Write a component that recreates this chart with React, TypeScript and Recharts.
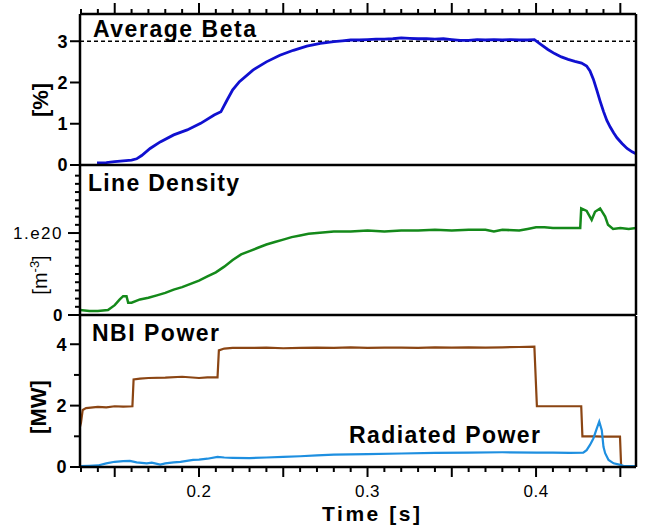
import React from 'react';
import { LineChart, Line, XAxis, YAxis, ReferenceLine } from 'recharts';

// time window shared by the three panels [s]
const T_MIN = 0.1294;
const T_MAX = 0.4593;

const timeTicks = [
  0.13, 0.14, 0.15, 0.16, 0.17, 0.18, 0.19, 0.2, 0.21, 0.22, 0.23, 0.24, 0.25, 0.26, 0.27, 0.28, 0.29,
  0.3, 0.31, 0.32, 0.33, 0.34, 0.35, 0.36, 0.37, 0.38, 0.39, 0.4, 0.41, 0.42, 0.43, 0.44, 0.45,
];
const timeLabels = [0.2, 0.3, 0.4];

const betaTicks = [0, 1, 2, 3];
const densityTicks = [0, 0.1, 0.2, 0.3, 0.4, 0.5, 0.6, 0.7, 0.8, 0.9, 1, 1.1, 1.2, 1.3, 1.4, 1.5, 1.6, 1.7];
const powerTicks = [0, 1, 2, 3, 4];

// Average beta [%]
const betaTime = [
  0.1395, 0.145, 0.15, 0.155, 0.16, 0.163, 0.166, 0.171, 0.177, 0.185, 0.193, 0.201, 0.209, 0.213, 0.2166,
  0.22, 0.224, 0.232, 0.24, 0.248, 0.256, 0.264, 0.272, 0.28, 0.285, 0.29, 0.295, 0.3, 0.305, 0.31, 0.315,
  0.32, 0.325, 0.33, 0.335, 0.34, 0.345, 0.35, 0.355, 0.36, 0.365, 0.37, 0.375, 0.38, 0.385, 0.39, 0.395,
  0.399, 0.403, 0.407, 0.411, 0.415, 0.419, 0.423, 0.427, 0.43, 0.432, 0.434, 0.436, 0.438, 0.44, 0.442,
  0.444, 0.446, 0.448, 0.451, 0.454, 0.457, 0.4593,
];
const betaValue = [
  0.05, 0.06, 0.08, 0.1, 0.12, 0.15, 0.23, 0.4, 0.56, 0.73, 0.85, 1.01, 1.21, 1.29, 1.57,
  1.82, 2.02, 2.3, 2.5, 2.66, 2.78, 2.88, 2.95, 2.99, 3.01, 3.03, 3.03, 3.04, 3.05, 3.05, 3.06,
  3.08, 3.07, 3.06, 3.06, 3.05, 3.06, 3.04, 3.02, 3.02, 3.04, 3.03, 3.04, 3.03, 3.04, 3.03, 3.03,
  3.04, 2.92, 2.8, 2.7, 2.62, 2.56, 2.51, 2.47, 2.4, 2.28, 2.08, 1.82, 1.55, 1.3, 1.08,
  0.92, 0.78, 0.66, 0.52, 0.4, 0.32, 0.27,
];

// Line density [1e20 m^-3]
const densityTime = [
  0.1294, 0.135, 0.14, 0.146, 0.15, 0.153, 0.155, 0.157, 0.158, 0.16, 0.165, 0.17, 0.175, 0.18, 0.185,
  0.19, 0.195, 0.2, 0.205, 0.21, 0.215, 0.22, 0.225, 0.23, 0.235, 0.24, 0.245, 0.25, 0.255, 0.26, 0.265,
  0.27, 0.275, 0.28, 0.29, 0.3, 0.31, 0.32, 0.33, 0.34, 0.35, 0.36, 0.37, 0.375, 0.38, 0.39, 0.395, 0.4,
  0.405, 0.41, 0.415, 0.42, 0.4262, 0.4268, 0.43, 0.433, 0.435, 0.438, 0.441, 0.4427, 0.4457, 0.45, 0.455,
  0.4593,
];
const densityValue = [
  0.06, 0.05, 0.05, 0.06, 0.12, 0.19, 0.23, 0.23, 0.15, 0.15, 0.19, 0.21, 0.24, 0.27, 0.31,
  0.34, 0.38, 0.42, 0.47, 0.52, 0.59, 0.67, 0.74, 0.78, 0.82, 0.86, 0.89, 0.92, 0.95, 0.97, 0.99,
  1.0, 1.01, 1.02, 1.02, 1.03, 1.02, 1.03, 1.03, 1.04, 1.03, 1.04, 1.04, 1.02, 1.04, 1.03, 1.05, 1.07,
  1.07, 1.06, 1.06, 1.06, 1.06, 1.3, 1.27, 1.16, 1.26, 1.3, 1.2, 1.1, 1.05, 1.06, 1.05,
  1.06,
];

// NBI power [MW]
const nbiTime = [
  0.1294, 0.13, 0.131, 0.133, 0.14, 0.145, 0.15, 0.155, 0.1605, 0.1612, 0.165, 0.17, 0.18, 0.19, 0.2,
  0.205, 0.211, 0.2118, 0.215, 0.22, 0.23, 0.24, 0.25, 0.26, 0.27, 0.28, 0.29, 0.3, 0.31, 0.32, 0.33,
  0.34, 0.35, 0.36, 0.37, 0.38, 0.39, 0.399, 0.4005, 0.41, 0.42, 0.4268, 0.4275, 0.435, 0.44, 0.4498,
  0.4505,
];
const nbiValue = [
  1.31, 1.45, 1.86, 1.92, 1.96, 1.94, 1.98, 1.97, 1.98, 2.85, 2.88, 2.9, 2.91, 2.94, 2.9,
  2.92, 2.92, 3.8, 3.86, 3.88, 3.88, 3.89, 3.87, 3.88, 3.89, 3.88, 3.9, 3.88, 3.89, 3.89, 3.88,
  3.9, 3.89, 3.9, 3.89, 3.9, 3.91, 3.92, 1.98, 1.98, 1.98, 1.98, 1.0, 1.0, 0.99, 0.99,
  0,
];

// Radiated power [MW]
const radTime = [
  0.1294, 0.135, 0.14, 0.145, 0.15, 0.155, 0.159, 0.163, 0.169, 0.172, 0.177, 0.18, 0.185, 0.189, 0.1965,
  0.2, 0.205, 0.211, 0.215, 0.22, 0.23, 0.24, 0.25, 0.26, 0.27, 0.28, 0.29, 0.3, 0.32, 0.34, 0.36,
  0.38, 0.4, 0.41, 0.42, 0.428, 0.43, 0.432, 0.434, 0.436, 0.4375, 0.439, 0.44, 0.441, 0.443, 0.446,
  0.45, 0.452, 0.4593,
];
const radValue = [
  0.03, 0.04, 0.05, 0.12, 0.17, 0.19, 0.2, 0.15, 0.12, 0.14, 0.08, 0.12, 0.15, 0.17, 0.23,
  0.24, 0.27, 0.33, 0.31, 0.3, 0.29, 0.31, 0.33, 0.35, 0.38, 0.4, 0.41, 0.42, 0.44, 0.46, 0.47,
  0.48, 0.47, 0.47, 0.46, 0.47, 0.55, 0.72, 0.93, 1.25, 1.48, 1.2, 0.66, 0.45, 0.23, 0.12,
  0.07, 0.03, 0.03,
];

const zip = (t: number[], v: number[]) => t.map((x, i) => ({ t: x, v: v[i] }));

const FONT = 'Liberation Sans, Arial, Helvetica, sans-serif';
const AXIS = { stroke: '#000', strokeWidth: 2.5 };

type Side = 'top' | 'bottom' | 'left' | 'right';
interface TickOpts {
  side: Side;
  len: (v: number) => number;
  label?: (v: number) => string | null;
  bold?: (v: number) => boolean;
  gap?: number;
  size?: number;
}

const makeTick = (o: TickOpts) => (p: any) => {
  const { x, y, payload } = p;
  const v = payload.value as number;
  const L = o.len(v);
  const lab = o.label ? o.label(v) : null;
  const gap = o.gap ?? 12;
  const fs = o.size ?? 18;
  const weight = o.bold && o.bold(v) ? 700 : 400;
  let line;
  if (o.side === 'top') line = <line x1={x} x2={x} y1={y} y2={y - L} stroke="#000" strokeWidth={2} />;
  else if (o.side === 'bottom') line = <line x1={x} x2={x} y1={y} y2={y + L} stroke="#000" strokeWidth={2} />;
  else if (o.side === 'left') line = <line x1={x} x2={x - L} y1={y} y2={y} stroke="#000" strokeWidth={2} />;
  else line = <line x1={x} x2={x + L} y1={y} y2={y} stroke="#000" strokeWidth={2} />;
  let text = null;
  if (lab) {
    if (o.side === 'bottom') {
      text = (
        <text x={x} y={y + gap} textAnchor="middle" fontSize={fs} fontWeight={weight} fontFamily={FONT} letterSpacing={0.5} fill="#000">
          {lab}
        </text>
      );
    } else if (o.side === 'left') {
      text = (
        <text x={x - gap} y={y} dy="0.36em" textAnchor="end" fontSize={fs} fontWeight={weight} fontFamily={FONT} letterSpacing={weight === 400 ? 1.5 : 0.5} fill="#000">
          {lab}
        </text>
      );
    }
  }
  return (
    <g>
      {line}
      {text}
    </g>
  );
};

const isMajorTime = (v: number) => Math.round(v * 100) % 5 === 0;
const timeLabel = (v: number) => (timeLabels.some((l) => Math.abs(l - v) < 1e-6) ? v.toFixed(1) : null);

const W = 646;
const PLOT_LEFT = 80;
const RIGHT_W = 10;

const TopPanel = () => (
  <LineChart width={W} height={180} margin={{ top: 0, right: 0, bottom: 14, left: 0 }}>
    <XAxis
      xAxisId="t"
      orientation="top"
      type="number"
      dataKey="t"
      domain={[T_MIN, T_MAX]}
      allowDataOverflow
      ticks={timeTicks}
      interval={0}
      height={14}
      tickSize={0}
      tickMargin={0}
      tickLine={false}
      axisLine={AXIS}
      tick={makeTick({ side: 'top', len: (v) => (isMajorTime(v) ? 11 : 5) })}
    />
    <XAxis xAxisId="b" orientation="bottom" type="number" dataKey="t" domain={[T_MIN, T_MAX]} height={1} tick={false} tickLine={false} axisLine={AXIS} />
    <YAxis
      yAxisId="l"
      width={PLOT_LEFT}
      domain={[0, 3.66]}
      allowDataOverflow
      ticks={betaTicks}
      interval={0}
      tickSize={0}
      tickMargin={0}
      tickLine={false}
      axisLine={AXIS}
      tick={makeTick({ side: 'left', len: () => 10, label: (v) => String(v), bold: () => true, gap: 12 })}
    />
    <YAxis
      yAxisId="r"
      orientation="right"
      width={RIGHT_W}
      domain={[0, 3.66]}
      ticks={betaTicks}
      interval={0}
      tickSize={0}
      tickMargin={0}
      tickLine={false}
      axisLine={AXIS}
      tick={makeTick({ side: 'right', len: () => 8 })}
    />
    <ReferenceLine xAxisId="t" yAxisId="l" y={3} stroke="#000" strokeWidth={1.5} strokeDasharray="4 3" />
    <Line xAxisId="t" yAxisId="l" data={zip(betaTime, betaValue)} dataKey="v" stroke="#1010d0" strokeWidth={2.8} dot={false} isAnimationActive={false} />
  </LineChart>
);

const MiddlePanel = () => (
  <LineChart width={W} height={180} margin={{ top: 15, right: 0, bottom: 14, left: 0 }}>
    <XAxis xAxisId="b" orientation="bottom" type="number" dataKey="t" domain={[T_MIN, T_MAX]} allowDataOverflow height={1} tick={false} tickLine={false} axisLine={AXIS} />
    <YAxis
      yAxisId="l"
      width={PLOT_LEFT}
      domain={[0, 1.83]}
      allowDataOverflow
      ticks={densityTicks}
      interval={0}
      tickSize={0}
      tickMargin={0}
      tickLine={false}
      axisLine={AXIS}
      tick={makeTick({
        side: 'left',
        len: (v) => (v === 0 || v === 1 ? 12 : 5),
        label: (v) => (v === 0 ? '0' : v === 1 ? '1.e20' : null),
        bold: (v) => v === 0,
        gap: 17,
        size: 17,
      })}
    />
    <YAxis
      yAxisId="r"
      orientation="right"
      width={RIGHT_W}
      domain={[0, 1.83]}
      ticks={densityTicks}
      interval={0}
      tickSize={0}
      tickMargin={0}
      tickLine={false}
      axisLine={AXIS}
      tick={makeTick({ side: 'right', len: (v) => (Math.round(v * 10) % 5 === 0 ? 8 : 4) })}
    />
    <Line xAxisId="b" yAxisId="l" data={zip(densityTime, densityValue)} dataKey="v" stroke="#14891a" strokeWidth={2.5} dot={false} isAnimationActive={false} />
  </LineChart>
);

const BottomPanel = () => (
  <LineChart width={W} height={226} margin={{ top: 16, right: 0, bottom: 0, left: 0 }}>
    <XAxis
      xAxisId="b"
      orientation="bottom"
      type="number"
      dataKey="t"
      domain={[T_MIN, T_MAX]}
      allowDataOverflow
      ticks={timeTicks}
      interval={0}
      height={59}
      tickSize={0}
      tickMargin={0}
      tickLine={false}
      axisLine={AXIS}
      tick={makeTick({ side: 'bottom', len: (v) => (isMajorTime(v) ? 10 : 5), label: timeLabel, gap: 30, size: 17 })}
    />
    <YAxis
      yAxisId="l"
      width={PLOT_LEFT}
      domain={[0, 4.92]}
      allowDataOverflow
      ticks={powerTicks}
      interval={0}
      tickSize={0}
      tickMargin={0}
      tickLine={false}
      axisLine={AXIS}
      tick={makeTick({
        side: 'left',
        len: (v) => (v % 2 === 0 ? 10 : 6),
        label: (v) => (v % 2 === 0 ? String(v) : null),
        bold: () => true,
        gap: 13,
      })}
    />
    <YAxis
      yAxisId="r"
      orientation="right"
      width={RIGHT_W}
      domain={[0, 4.92]}
      ticks={powerTicks}
      interval={0}
      tickSize={0}
      tickMargin={0}
      tickLine={false}
      axisLine={AXIS}
      tick={makeTick({ side: 'right', len: () => 8 })}
    />
    <Line xAxisId="b" yAxisId="l" data={zip(nbiTime, nbiValue)} dataKey="v" stroke="#8b4513" strokeWidth={2.2} dot={false} isAnimationActive={false} />
    <Line xAxisId="b" yAxisId="l" data={zip(radTime, radValue)} dataKey="v" stroke="#1e8fe0" strokeWidth={2.2} dot={false} isAnimationActive={false} />
  </LineChart>
);

const Labels = () => (
  <svg width={W} height={526} style={{ position: 'absolute', left: 0, top: 0, pointerEvents: 'none' }} fontFamily={FONT}>
    <text x={93} y={36.5} fontSize={23} fontWeight={700} textLength={163} lengthAdjust="spacing">Average Beta</text>
    <text x={88} y={190.5} fontSize={23} fontWeight={700} textLength={151} lengthAdjust="spacing">Line Density</text>
    <text x={92} y={340.5} fontSize={23} fontWeight={700} textLength={127} lengthAdjust="spacing">NBI Power</text>
    <text x={349} y={442.5} fontSize={23} fontWeight={700} textLength={191} lengthAdjust="spacing">Radiated Power</text>
    <text x={322} y={521} fontSize={21} fontWeight={700} textLength={98} lengthAdjust="spacing">Time [s]</text>
    <text transform="translate(40,100) rotate(-90)" textAnchor="middle" dy="0.36em" fontSize={22} fontWeight={700}>[%]</text>
    <text transform="translate(38,407) rotate(-90)" textAnchor="middle" dy="0.36em" fontSize={22} fontWeight={700}>[MW]</text>
    <text transform="translate(40,275) rotate(-90)" textAnchor="middle" dy="0.36em" fontSize={20}>
      [m<tspan dy={-8} fontSize={13}>-3</tspan>
      <tspan dy={8}>]</tspan>
    </text>
  </svg>
);

export default function App() {
  return (
    <div style={{ position: 'relative', width: W, height: 526, background: '#fff', overflow: 'hidden' }}>
      <style>{'body{margin:0}'}</style>
      <div style={{ position: 'absolute', left: 0, top: 0 }}>
        <TopPanel />
      </div>
      <div style={{ position: 'absolute', left: 0, top: 150 }}>
        <MiddlePanel />
      </div>
      <div style={{ position: 'absolute', left: 0, top: 300 }}>
        <BottomPanel />
      </div>
      <Labels />
    </div>
  );
}
